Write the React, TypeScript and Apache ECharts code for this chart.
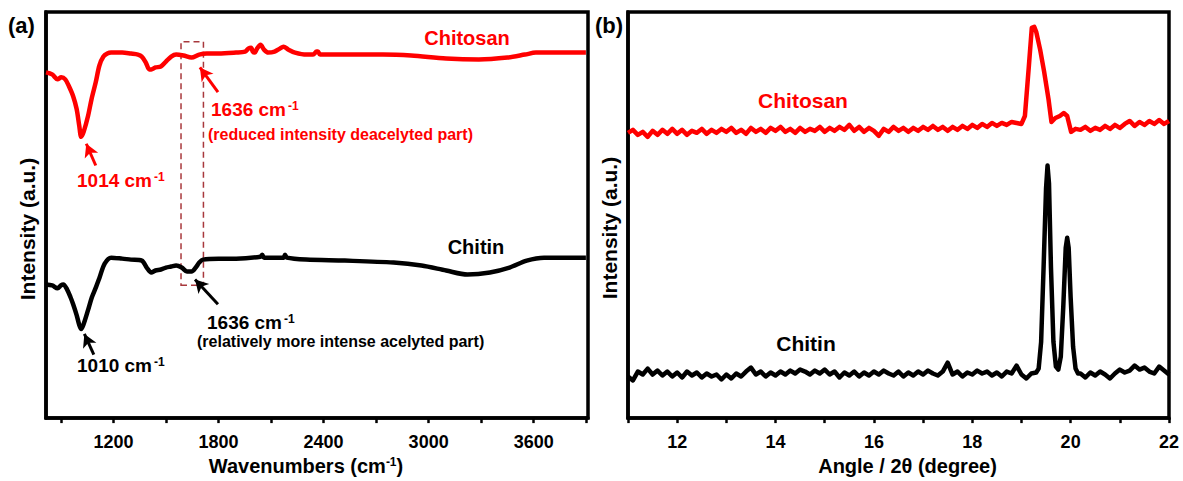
import React, { useEffect, useRef } from "react";
import * as echarts from "echarts";

const FONT = '"Liberation Sans", Arial, Helvetica, sans-serif';
const RED = "#ff0000";
const BOX = "#a8383c";

// ---------- Panel (a): FTIR ----------
const ftirTicks = [900, 1200, 1500, 1800, 2100, 2400, 2700, 3000, 3300, 3600, 3900];
const ftirLabels = [1200, 1800, 2400, 3000, 3600];

// [wavenumber, intensity]
const chitosanFtir: [number, number][] = [
  [815, 349], [850, 347], [881, 342], [902, 344], [925, 342], [946, 335], [970, 325],
  [990, 312], [1005, 295], [1016, 284], [1030, 289], [1055, 305], [1075, 322], [1099, 339],
  [1120, 356], [1143, 365], [1165, 368], [1187, 369], [1250, 369], [1300, 368], [1340, 367],
  [1362, 365], [1385, 359], [1405, 352], [1416, 352], [1440, 354], [1471, 355], [1500, 360],
  [1530, 365], [1558, 367], [1600, 366], [1646, 364], [1690, 367], [1734, 368], [1800, 368],
  [1900, 369], [1952, 370], [1970, 373], [1986, 374], [1996, 370], [2007, 369], [2020, 373],
  [2040, 377], [2060, 372], [2084, 369], [2120, 370], [2150, 373], [2171, 375], [2200, 372],
  [2237, 369], [2303, 367], [2340, 367], [2360, 370], [2368, 370], [2380, 367], [2500, 367],
  [2739, 367], [2900, 366], [3100, 363], [3287, 362], [3450, 364], [3550, 367], [3613, 369],
  [3700, 369], [3800, 369], [3898, 369],
];

const chitinFtir: [number, number][] = [
  [815, 135], [850, 134], [881, 131], [900, 134], [914, 135], [935, 130], [955, 122],
  [970, 115], [990, 104], [1005, 94], [1016, 90], [1030, 95], [1055, 109], [1077, 122],
  [1100, 132], [1121, 142], [1150, 156], [1187, 162], [1250, 161], [1300, 160], [1362, 159],
  [1390, 152], [1416, 147], [1440, 149], [1471, 150], [1500, 152], [1530, 153], [1558, 154],
  [1590, 152], [1620, 148], [1646, 148], [1670, 152], [1690, 157], [1712, 160], [1800, 161],
  [1900, 161], [2040, 163], [2050, 165], [2060, 162], [2171, 162], [2180, 165], [2190, 162],
  [2300, 160], [2521, 159], [2800, 157], [2959, 154], [3100, 149], [3222, 145], [3350, 147],
  [3462, 152], [3560, 159], [3659, 162], [3800, 162], [3898, 162],
];

// ---------- Panel (b): XRD ----------
const xrdTicks = [11, 12, 13, 14, 15, 16, 17, 18, 19, 20, 21, 22];
const xrdLabels = [12, 14, 16, 18, 20, 22];
const XRD_STEP = 0.1;

// Chitosan baseline from 11.0 to 18.9, step 0.1
const chitosanXrdLeft = [
  288, 291, 286, 289, 284, 290, 286, 291, 287, 292,
  287, 291, 286, 290, 288, 292, 287, 291, 288, 292,
  289, 293, 288, 291, 287, 293, 289, 292, 288, 293,
  290, 294, 289, 292, 288, 293, 289, 292, 290, 294,
  289, 293, 290, 294, 291, 296, 290, 294, 289, 293,
  290, 285, 292, 289, 294, 290, 293, 289, 293, 290,
  294, 291, 295, 291, 294, 290, 294, 291, 295, 292,
  296, 293, 297, 294, 298, 295, 298, 296, 299, 298,
];
const chitosanXrdPeak: [number, number][] = [
  [19.0, 297], [19.07, 305], [19.15, 355], [19.21, 394], [19.26, 395], [19.3, 390],
  [19.38, 372], [19.46, 350], [19.55, 322], [19.61, 299], [19.69, 303], [19.78, 305],
  [19.86, 308], [19.93, 305], [20.01, 289], [20.1, 292],
];
// Chitosan baseline from 20.2 to 22.0
const chitosanXrdRight = [
  291, 294, 290, 293, 291, 295, 292, 296, 293, 297,
  300, 295, 299, 296, 300, 297, 301, 297, 300,
];

// Chitin baseline from 11.0 to 19.3
const chitinXrdLeft = [
  42, 38, 47, 44, 50, 44, 48, 43, 47, 42,
  46, 41, 47, 43, 46, 41, 45, 42, 44, 39,
  44, 40, 45, 42, 47, 51, 44, 47, 42, 46,
  43, 47, 44, 48, 45, 49, 47, 44, 48, 45,
  49, 44, 47, 41, 46, 43, 47, 42, 46, 43,
  47, 44, 48, 45, 43, 47, 42, 46, 43, 47,
  44, 48, 45, 43, 47, 56, 44, 47, 42, 46,
  44, 48, 45, 47, 43, 46, 42, 47, 45, 53,
  44, 40, 45, 46,
];
const chitinXrdPeak: [number, number][] = [
  [19.35, 50], [19.4, 77], [19.45, 152], [19.5, 232], [19.53, 255], [19.56, 237],
  [19.6, 152], [19.65, 77], [19.7, 52], [19.75, 49], [19.8, 62], [19.85, 112],
  [19.9, 172], [19.93, 182], [19.96, 172], [20.0, 122], [20.05, 72], [20.1, 50], [20.15, 45],
];
// Chitin baseline from 20.2 to 22.0
const chitinXrdRight = [
  45, 41, 46, 43, 47, 44, 40, 45, 49, 46,
  48, 53, 49, 51, 47, 45, 52, 48, 44,
];

const onGrid = (vals: number[], start: number): [number, number][] =>
  vals.map((v, i) => [Math.round((start + i * XRD_STEP) * 100) / 100, v]);

const richTitle = {
  a: { fontFamily: FONT, fontWeight: "bold", fontSize: 20, color: "#000" },
  s: { fontFamily: FONT, fontWeight: "bold", fontSize: 12, color: "#000", verticalAlign: "top" },
};

function arrow(color: string, tail: [number, number], head: [number, number]) {
  return [
    { coord: tail, lineStyle: { color, width: 3, type: "solid" } },
    { coord: head },
  ];
}

function gtext(x: number, y: number, text: string, color: string, size: number, align = "left") {
  return {
    type: "text",
    x,
    y,
    style: {
      text,
      fill: color,
      font: `bold ${size}px ${FONT}`,
      textAlign: align,
      textVerticalAlign: "middle",
    },
  };
}

function gsup(x: number, y: number, main: string, color: string) {
  return {
    type: "text",
    x,
    y,
    style: {
      text: `{m|${main}}{s|-1}`,
      fill: color,
      textAlign: "left",
      textVerticalAlign: "middle",
      rich: {
        m: { fontFamily: FONT, fontWeight: "bold", fontSize: 19, fill: color },
        s: { fontFamily: FONT, fontWeight: "bold", fontSize: 12, fill: color, verticalAlign: "top", padding: [0, 0, 0, 2] },
      },
    },
  };
}

export default function App() {
  const ref = useRef<HTMLDivElement>(null);
  useEffect(() => {
    if (!ref.current) return;
    const chart = echarts.init(ref.current, undefined, { renderer: "svg" });
    const axisLine = { show: true, lineStyle: { color: "#000", width: 3.5 } };
    const labelStyle = {
      fontFamily: FONT, fontWeight: "bold", fontSize: 18, color: "#000",
      formatter: (v: number) => String(v),
    };
    const yName = { fontFamily: FONT, fontWeight: "bold", fontSize: 21, color: "#000" };
    chart.setOption({
      animation: false,
      backgroundColor: "#fff",
      grid: [
        { left: 46, top: 12, width: 542, height: 410, show: true, borderColor: "#000", borderWidth: 3.5, containLabel: false },
        { left: 628, top: 12, width: 541, height: 410, show: true, borderColor: "#000", borderWidth: 3.5, containLabel: false },
      ],
      xAxis: [
        {
          gridIndex: 0, type: "value", min: 815, max: 3910,
          axisLine,
          axisTick: { show: true, length: 5, lineStyle: { color: "#000", width: 2.5 }, customValues: ftirTicks },
          axisLabel: { ...labelStyle, margin: 15, customValues: ftirLabels },
          splitLine: { show: false },
          name: "{a|Wavenumbers (cm}{s|-1}{a|)}",
          nameLocation: "middle", nameGap: 36,
          nameTextStyle: { rich: richTitle, padding: [0, 22, 0, 0] },
        },
        {
          gridIndex: 1, type: "value", min: 11, max: 22,
          axisLine,
          axisTick: { show: true, length: 5, lineStyle: { color: "#000", width: 2.5 }, customValues: xrdTicks },
          axisLabel: { ...labelStyle, margin: 15, customValues: xrdLabels },
          splitLine: { show: false },
          name: "Angle / 2θ (degree)",
          nameLocation: "middle", nameGap: 36,
          nameTextStyle: { fontFamily: FONT, fontWeight: "bold", fontSize: 20, color: "#000", padding: [0, 0, 0, 18] },
        },
      ],
      yAxis: [
        {
          gridIndex: 0, type: "value", min: 0, max: 410,
          axisLine, axisTick: { show: false }, axisLabel: { show: false }, splitLine: { show: false },
          name: "Intensity (a.u.)", nameLocation: "middle", nameGap: 8,
          nameTextStyle: { ...yName, padding: [0, 28, 0, 0] },
        },
        {
          gridIndex: 1, type: "value", min: 0, max: 410,
          axisLine, axisTick: { show: false }, axisLabel: { show: false }, splitLine: { show: false },
          name: "Intensity (a.u.)", nameLocation: "middle", nameGap: 8,
          nameTextStyle: { ...yName, padding: [0, 26, 0, 0] },
        },
      ],
      series: [
        {
          name: "Chitosan FTIR", type: "line", xAxisIndex: 0, yAxisIndex: 0,
          data: chitosanFtir, showSymbol: false, smooth: 0.3,
          lineStyle: { color: RED, width: 4.5 },
          markArea: {
            silent: true,
            itemStyle: { color: "rgba(0,0,0,0)", borderColor: BOX, borderWidth: 1.5, borderType: [6, 4] },
            data: [[{ coord: [1586, 134] }, { coord: [1714, 380] }]],
          },
          markLine: {
            silent: true, symbol: ["none", "arrow"], symbolSize: [11, 13],
            label: { show: false },
            data: [arrow(RED, [1099, 255], [1045, 277]), arrow(RED, [1797, 329], [1694, 354])],
          },
        },
        {
          name: "Chitin FTIR", type: "line", xAxisIndex: 0, yAxisIndex: 0,
          data: chitinFtir, showSymbol: false, smooth: 0.3,
          lineStyle: { color: "#000", width: 4.5 },
          markLine: {
            silent: true, symbol: ["none", "arrow"], symbolSize: [11, 13],
            label: { show: false },
            data: [arrow("#000", [1088, 64], [1034, 85]), arrow("#000", [1797, 115], [1666, 140])],
          },
        },
        {
          name: "Chitosan XRD", type: "line", xAxisIndex: 1, yAxisIndex: 1,
          data: [...onGrid(chitosanXrdLeft, 11), ...chitosanXrdPeak, ...onGrid(chitosanXrdRight, 20.2)],
          showSymbol: false, lineStyle: { color: RED, width: 4.5, join: "round" },
        },
        {
          name: "Chitin XRD", type: "line", xAxisIndex: 1, yAxisIndex: 1,
          data: [...onGrid(chitinXrdLeft, 11), ...chitinXrdPeak, ...onGrid(chitinXrdRight, 20.2)],
          showSymbol: false, lineStyle: { color: "#000", width: 4.5, join: "round" },
        },
      ],
      graphic: [
        gtext(8, 25, "(a)", "#000", 22),
        gtext(595, 25, "(b)", "#000", 22),
        gtext(467, 38, "Chitosan", RED, 20, "center"),
        gsup(211, 109, "1636 cm", RED),
        gtext(208, 134, "(reduced intensity deacelyted part)", RED, 16),
        gsup(77, 180, "1014 cm", RED),
        gtext(476, 247, "Chitin", "#000", 20, "center"),
        gsup(207, 322, "1636 cm", "#000"),
        gtext(197, 341, "(relatively more intense acelyted part)", "#000", 16),
        gsup(77, 365, "1010 cm", "#000"),
        gtext(803, 100, "Chitosan", RED, 21, "center"),
        gtext(806, 343, "Chitin", "#000", 21, "center"),
      ],
    });
    return () => chart.dispose();
  }, []);
  return (
    <div
      ref={ref}
      style={{ position: "fixed", left: 0, top: 0, width: 1183, height: 481, background: "#fff" }}
    />
  );
}
